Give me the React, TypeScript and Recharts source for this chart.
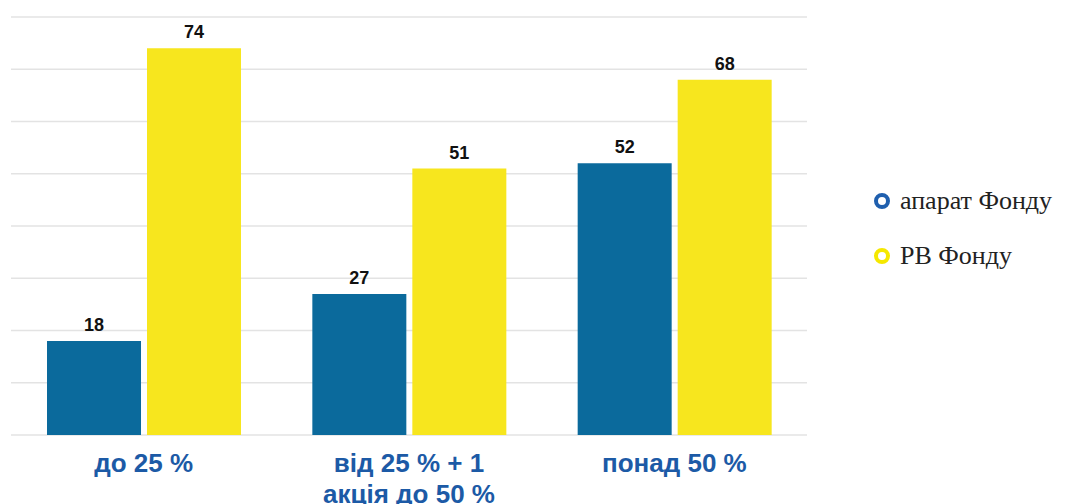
import React from "react";
import { BarChart, Bar, XAxis, YAxis, CartesianGrid, LabelList } from "recharts";

const categories = ["до 25 %", "від 25 % + 1|акція до 50 %", "понад 50 %"];
const apparatValues = [18, 27, 52];
const rvValues = [74, 51, 68];
const yTicks = [0, 10, 20, 30, 40, 50, 60, 70, 80];
const seriesNames = ["апарат Фонду", "РВ Фонду"];

const data = categories.map((c, i) => ({ name: c, a: apparatValues[i], b: rvValues[i] }));

const BLUE = "#0b6a9c";
const YELLOW = "#f7e61e";
const LABEL_BLUE = "#1c5aa6";

const Tick = (props: any) => {
  const { x, y, payload } = props;
  const lines = String(payload.value).split("|");
  return (
    <text x={x} y={y} textAnchor="middle" fill={LABEL_BLUE} fontFamily="Liberation Sans, Arial, sans-serif" fontWeight="bold" fontSize={26}>
      {lines.map((l, i) => (
        <tspan key={i} x={x} y={y + 29 + i * 31}>{l}</tspan>
      ))}
    </text>
  );
};

const LegendBlock = () => {
  const colors = ["#1f5fae", "#f5e800"];
  return (
    <div style={{ position: "absolute", left: 872, top: 173, fontFamily: "Liberation Serif, Times New Roman, serif", fontSize: 26, color: "#222" }}>
      {seriesNames.map((n, i) => (
        <div key={n} style={{ display: "flex", alignItems: "center", height: 55 }}>
          <svg width={20} height={20} style={{ marginRight: 8 }}>
            <circle cx={10} cy={10} r={6} fill="none" stroke={colors[i]} strokeWidth={4} />
          </svg>
          <span>{n}</span>
        </div>
      ))}
    </div>
  );
};

export default function App() {
  return (
    <div style={{ position: "absolute", left: 0, top: 0, width: 1068, height: 504, background: "#fff", overflow: "hidden" }}>
      <BarChart width={1068} height={504} data={data} margin={{ top: 17, right: 261, bottom: 0, left: 11 }} barCategoryGap="13.57%" barGap={6}>
        <CartesianGrid vertical={false} stroke="#e3e3e3" strokeWidth={1.5} />
        <XAxis dataKey="name" axisLine={false} tickLine={false} height={69} tick={<Tick />} interval={0} />
        <YAxis hide domain={[0, 80]} ticks={yTicks} width={0} />
        <Bar dataKey="a" name={seriesNames[0]} fill={BLUE} isAnimationActive={false}>
          <LabelList dataKey="a" position="top" offset={10} fill="#111" fontFamily="Liberation Sans, Arial, sans-serif" fontWeight="bold" fontSize={18} />
        </Bar>
        <Bar dataKey="b" name={seriesNames[1]} fill={YELLOW} isAnimationActive={false}>
          <LabelList dataKey="b" position="top" offset={10} fill="#111" fontFamily="Liberation Sans, Arial, sans-serif" fontWeight="bold" fontSize={18} />
        </Bar>
      </BarChart>
      <LegendBlock />
    </div>
  );
}
